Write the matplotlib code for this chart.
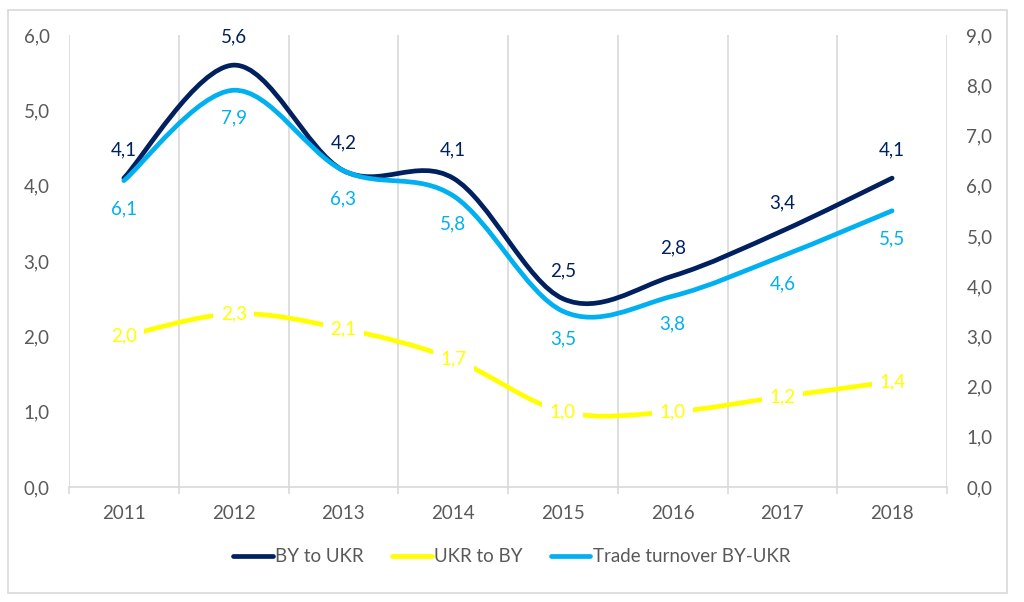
import matplotlib
matplotlib.use("Agg")
import matplotlib.pyplot as plt
from matplotlib.path import Path
from matplotlib.patches import PathPatch, Rectangle
from matplotlib.lines import Line2D

years = ["2011", "2012", "2013", "2014", "2015", "2016", "2017", "2018"]
by_to_ukr = [4.1, 5.6, 4.2, 4.1, 2.5, 2.8, 3.4, 4.1]
ukr_to_by = [2.0, 2.3, 2.1, 1.7, 1.0, 1.0, 1.2, 1.4]
turnover = [6.1, 7.9, 6.3, 5.8, 3.5, 3.8, 4.6, 5.5]

left_ticks = [0, 1, 2, 3, 4, 5, 6]
right_ticks = [0, 1, 2, 3, 4, 5, 6, 7, 8, 9]

NAVY = "#002060"
YELLOW = "#FFFF00"
LBLUE = "#00B0F0"
GRID = "#D9D9D9"
TXT = "#595959"
FONT = ["Lato", "DejaVu Sans"]
plt.rcParams["font.family"] = FONT
FS = 13.5


def fmt(v):
    return f"{v:.1f}".replace(".", ",")


def smooth_path(xs, ys):
    # Excel-style smoothed line: cubic Bezier through the points (Catmull-Rom control points)
    pts = list(zip(xs, ys))
    verts = [pts[0]]
    codes = [Path.MOVETO]
    n = len(pts)
    for i in range(n - 1):
        p0 = pts[i - 1] if i > 0 else pts[i]
        p1 = pts[i]
        p2 = pts[i + 1]
        p3 = pts[i + 2] if i + 2 < n else pts[i + 1]
        c1 = (p1[0] + (p2[0] - p0[0]) / 6, p1[1] + (p2[1] - p0[1]) / 6)
        c2 = (p2[0] - (p3[0] - p1[0]) / 6, p2[1] - (p3[1] - p1[1]) / 6)
        verts += [c1, c2, p2]
        codes += [Path.CURVE4] * 3
    return Path(verts, codes)


fig = plt.figure(figsize=(10.24, 6.02), dpi=100)
fig.patches.append(Rectangle((8 / 1024, 1 - 593 / 602), 999 / 1024, 583 / 602,
                             transform=fig.transFigure, fill=False,
                             edgecolor=GRID, linewidth=1.2))

ax = fig.add_axes([69 / 1024, 1 - 487 / 602, 878 / 1024, 452 / 602])
ax2 = ax.twinx()
x = list(range(len(years)))

ax.set_xlim(-0.5, len(years) - 0.5)
ax.set_ylim(0, 6)
ax2.set_ylim(0, 9)

ax.set_xticks(x)
ax.set_xticklabels(years)
ax.set_xticks([i - 0.5 for i in range(len(years) + 1)], minor=True)
ax.tick_params(axis="x", which="major", length=0, pad=13, labelsize=FS, labelcolor=TXT)
ax.tick_params(axis="x", which="minor", length=5, color=GRID, width=1.2)
ax.grid(axis="x", which="minor", color=GRID, linewidth=1.2)
ax.set_axisbelow(True)

ax.set_yticks(left_ticks)
ax.set_yticklabels([fmt(v) for v in left_ticks])
ax.tick_params(axis="y", length=0, pad=14, labelsize=FS, labelcolor=TXT)
ax2.set_yticks(right_ticks)
ax2.set_yticklabels([fmt(v) for v in right_ticks])
ax2.tick_params(axis="y", length=0, pad=14, labelsize=FS, labelcolor=TXT)

for a in (ax, ax2):
    for s in ("top", "left", "right"):
        a.spines[s].set_visible(False)
    a.spines["bottom"].set_color(GRID)
    a.spines["bottom"].set_linewidth(1.2)
ax2.spines["bottom"].set_visible(False)

lw = 3.4
ax.add_patch(PathPatch(smooth_path(x, ukr_to_by), fill=False, edgecolor=YELLOW,
                       linewidth=lw, capstyle="round", joinstyle="round", zorder=3))
ax.add_patch(PathPatch(smooth_path(x, by_to_ukr), fill=False, edgecolor=NAVY,
                       linewidth=lw, capstyle="round", joinstyle="round", zorder=4))
ax2.add_patch(PathPatch(smooth_path(x, turnover), fill=False, edgecolor=LBLUE,
                        linewidth=lw, capstyle="round", joinstyle="round", zorder=4))

for xi, v in zip(x, ukr_to_by):
    ax.annotate(fmt(v), (xi, v), ha="center", va="center", fontsize=FS, color=YELLOW,
                zorder=6, bbox=dict(boxstyle="square,pad=0.4", fc="white", ec="none"))
for xi, v in zip(x, by_to_ukr):
    ax.annotate(fmt(v), (xi, v), xytext=(0, 20), textcoords="offset points",
                ha="center", va="center", fontsize=FS, color=NAVY, zorder=6)
for xi, v in zip(x, turnover):
    ax2.annotate(fmt(v), (xi, v), xytext=(0, -20), textcoords="offset points",
                 ha="center", va="center", fontsize=FS, color=LBLUE, zorder=6)

handles = [Line2D([], [], color=NAVY, lw=lw, solid_capstyle="round"),
           Line2D([], [], color=YELLOW, lw=lw, solid_capstyle="round"),
           Line2D([], [], color=LBLUE, lw=lw, solid_capstyle="round")]
labels = ["BY to UKR", "UKR to BY", "Trade turnover BY-UKR"]
fig.legend(handles, labels, loc="center", bbox_to_anchor=(0.5, 1 - 557 / 602),
           ncol=3, frameon=False, fontsize=FS, handlelength=2.1, handletextpad=0.15,
           columnspacing=1.5, labelcolor=TXT)

fig.savefig("out.png", dpi=100)
